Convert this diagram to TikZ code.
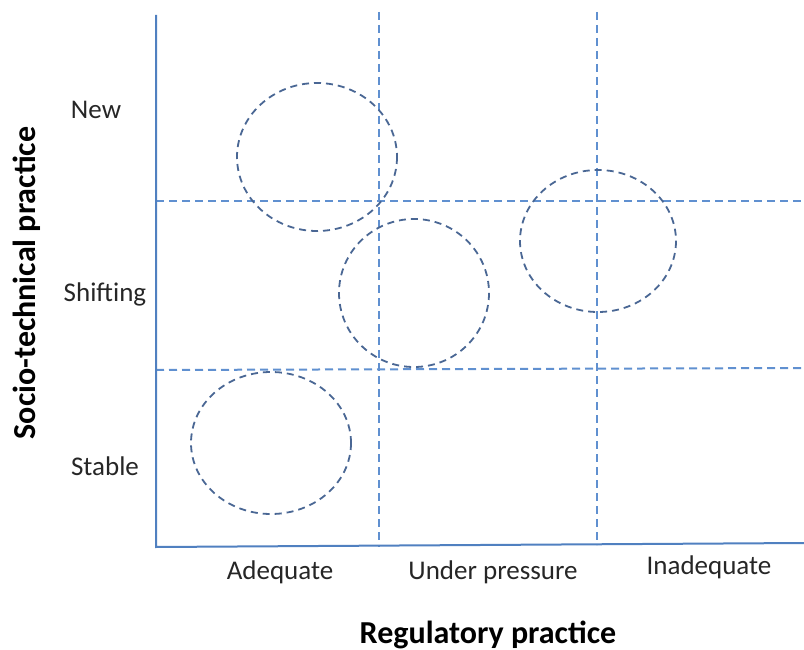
\documentclass[tikz,border=0pt]{standalone}
\usepackage{fontspec}
\setmainfont{Carlito}
\definecolor{axisblue}{HTML}{5080C0}
\definecolor{gridblue}{HTML}{6090D0}
\definecolor{ringblue}{HTML}{4A6794}
\begin{document}
\begin{tikzpicture}[x=1pt,y=-1pt,
  axisline/.style={draw=axisblue,line width=2pt},
  gridline/.style={draw=gridblue,line width=2pt,dash pattern=on 8pt off 5pt},
  ring/.style={draw=ringblue,line width=1.8pt,dash pattern=on 7pt off 5pt},
  ticklabel/.style={font=\fontsize{27}{32}\selectfont,text=black!85},
  axislabel/.style={font=\fontsize{32}{38}\selectfont\bfseries,text=black}]
\useasboundingbox (0,0) rectangle (804,650);
% coordinates
\coordinate (ytop) at (156,15);
\coordinate (origin) at (156,547);
\coordinate (xend) at (804,543);
\coordinate (v1t) at (379,12);
\coordinate (v1b) at (379,547);
\coordinate (v2t) at (597,12);
\coordinate (v2b) at (597,545);
\coordinate (h1l) at (156,201);
\coordinate (h1r) at (804,201);
\coordinate (h2l) at (156,370);
\coordinate (h2r) at (804,368);
% grid
\draw[gridline] (v1t) -- (v1b);
\draw[gridline] (v2t) -- (v2b);
\draw[gridline] (h1l) -- (h1r);
\draw[gridline] (h2l) -- (h2r);
% axes
\draw[axisline] (ytop) -- (origin) -- (xend);
% rings
\coordinate (c1) at (317,157);
\coordinate (c2) at (414,293);
\coordinate (c3) at (598,241);
\coordinate (c4) at (271,443);
\draw[ring] (c1) ellipse [x radius=80, y radius=74];
\draw[ring] (c2) ellipse [x radius=75, y radius=74];
\draw[ring] (c3) ellipse [x radius=78, y radius=71];
\draw[ring] (c4) ellipse [x radius=80, y radius=71];
% labels
\node[ticklabel] (new) at (96,110) {New};
\node[ticklabel] (shift) at (105,294) {Shifting};
\node[ticklabel] (stable) at (105,466) {Stable};
\node[ticklabel] (adeq) at (280,572) {Adequate};
\node[ticklabel] (under) at (493,572) {Under pressure};
\node[ticklabel] (inadeq) at (709,567) {Inadequate};
\node[axislabel] (xlab) at (488,635) {Regulatory practice};
\node[axislabel,rotate=90] (ylab) at (27,283) {Socio-technical practice};
\end{tikzpicture}
\end{document}
